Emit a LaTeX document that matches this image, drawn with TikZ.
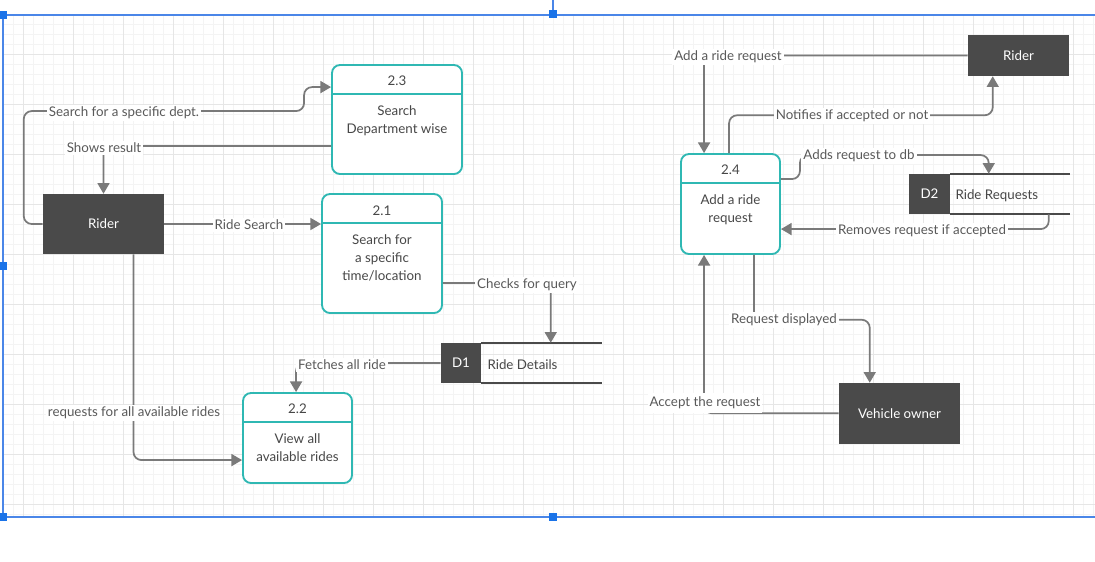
\documentclass[tikz,border=0pt]{standalone}
\usepackage{fontspec}
\setmainfont{Lato}
\usetikzlibrary{arrows.meta,calc}
\definecolor{darkbox}{HTML}{4A4A4A}
\definecolor{linegrey}{HTML}{7A7A7A}
\definecolor{lblgrey}{HTML}{595959}
\definecolor{txtgrey}{HTML}{474747}
\definecolor{tealb}{HTML}{2FB8B3}
\definecolor{gmin}{HTML}{F4F4F4}
\definecolor{gmaj}{HTML}{E6E6E6}
\definecolor{selblue}{HTML}{4A86E8}
\definecolor{handleblue}{HTML}{1A73E8}
\tikzset{
  ent/.style={fill=darkbox, text=white, inner sep=0pt, font=\fontsize{10}{12}\selectfont},
  proc/.style={draw=tealb, line width=1.4pt, rounded corners=6pt, fill=white, inner sep=0pt},
  procline/.style={draw=tealb, line width=1.4pt},
  ptext/.style={text=txtgrey, align=center, inner sep=0pt, font=\fontsize{10}{13.5}\selectfont},
  flow/.style={draw=linegrey, line width=1.3pt, rounded corners=6pt, -{Triangle[length=8pt,width=9pt]}},
  lbl/.style={fill=white, text=lblgrey, inner sep=1.5pt, font=\fontsize{10}{12}\selectfont},
  storebox/.style={inner sep=0pt, minimum width=120.75pt, minimum height=30pt},
  storeid/.style={fill=darkbox, text=white, inner sep=0pt, minimum height=30pt, font=\fontsize{10}{12}\selectfont},
  storeline/.style={draw=darkbox, line width=1.4pt},
  storetext/.style={text=txtgrey, inner sep=0pt, font=\fontsize{10}{12}\selectfont},
  handle/.style={fill=handleblue, minimum size=5.5pt, inner sep=0pt}
}
\begin{document}
\begin{tikzpicture}[x=0.75pt,y=-0.75pt]
\useasboundingbox (0,0) rectangle (1095,561);
\fill[white] (0,0) rectangle (1095,561);
% grid
\foreach \gx in {3,13,...,1093} \draw[gmin, line width=0.5pt] (\gx,15) -- (\gx,518);
\foreach \gy in {24,34,...,514} \draw[gmin, line width=0.5pt] (3,\gy) -- (1095,\gy);
\foreach \gx in {23,73,...,1073} \draw[gmaj, line width=0.6pt] (\gx,15) -- (\gx,518);
\foreach \gy in {54,104,...,504} \draw[gmaj, line width=0.6pt] (3,\gy) -- (1095,\gy);
% selection frame
\draw[selblue, line width=1.3pt] (3,15) -- (1095,15);
\draw[selblue, line width=1.3pt] (3,517) -- (1095,517);
\draw[selblue, line width=1.3pt] (3,15) -- (3,517);
\draw[selblue, line width=0.8pt] (553,0) -- (553,15);
\node[handle] (h1) at (3,15) {};
\node[handle] (h2) at (553,14) {};
\node[handle] (h3) at (3,266) {};
\node[handle] (h4) at (3,517) {};
\node[handle] (h5) at (553,517) {};

% entities
\node[ent, minimum width=90.75pt, minimum height=45pt] (riderL) at (103.5,224) {Rider};
\node[ent, minimum width=75.75pt, minimum height=30.75pt] (riderR) at (1018.5,55.5) {Rider};
\node[ent, minimum width=90.75pt, minimum height=45.75pt] (vowner) at (899.5,413.5) {Vehicle owner};

% processes
\node[proc, minimum width=97.5pt, minimum height=81.75pt] (p23) at (397,119.5) {};
\node[proc, minimum width=90pt, minimum height=89.25pt] (p21) at (382,253.5) {};
\node[proc, minimum width=81.75pt, minimum height=67.5pt] (p22) at (297.5,438) {};
\node[proc, minimum width=74.25pt, minimum height=75pt] (p24) at (730.5,204) {};
\draw[procline] ($(p23.north west)+(0,30)$) -- ($(p23.north east)+(0,30)$);
\draw[procline] ($(p21.north west)+(0,30)$) -- ($(p21.north east)+(0,30)$);
\draw[procline] ($(p22.north west)+(0,30)$) -- ($(p22.north east)+(0,30)$);
\draw[procline] ($(p24.north west)+(0,30)$) -- ($(p24.north east)+(0,30)$);
\node[ptext] (p23n) at ($(p23.north)+(0,17)$) {2.3};
\node[ptext] (p23d) at ($(p23.north)+(0,57)$) {Search\\Department wise};
\node[ptext] (p21n) at ($(p21.north)+(0,18)$) {2.1};
\node[ptext] (p21d) at ($(p21.north)+(0,65)$) {Search for\\a specific\\time/location};
\node[ptext] (p22n) at ($(p22.north)+(0,17)$) {2.2};
\node[ptext] (p22d) at ($(p22.north)+(0,56)$) {View all\\available rides};
\node[ptext] (p24n) at ($(p24.north)+(0,17)$) {2.4};
\node[ptext] (p24d) at ($(p24.north)+(0,57)$) {Add a ride\\request};

% data stores
\node[storebox] (d1) at (521.5,363) {};
\node[storeid, minimum width=30pt, anchor=west] (d1id) at (d1.west) {D1};
\draw[storeline] (d1id.north east) -- (d1.north east);
\draw[storeline] (d1id.south east) -- (d1.south east);
\node[storetext, anchor=west] (d1t) at ($(d1id.east)+(6,1.5)$) {Ride Details};

\node[storebox] (d2) at (989.5,194) {};
\node[storeid, minimum width=30.75pt, anchor=west] (d2id) at (d2.west) {D2};
\draw[storeline] (d2id.north east) -- (d2.north east);
\draw[storeline] (d2id.south east) -- (d2.south east);
\node[storetext, anchor=west] (d2t) at ($(d2id.east)+(5,2)$) {Ride Requests};

% connectors
\draw[flow] (riderL.west) -- ++(-19,0) |- ($(p23.north west)+(-27,47)$) |- ($(p23.north west)+(0,23)$);
\draw[flow] ($(p23.north west)+(0,82)$) -| (riderL.north);
\draw[flow] (riderL.east) -- (riderL.east -| p21.west);
\draw[flow] ($(riderL.south)+(30,0)$) |- ($(p22.north west)+(0,68)$);
\draw[flow] ($(p21.north east)+(0,90)$) -| ($(d1.north west)+(110,0)$);
\draw[flow] (d1.west) -| ($(p22.north west)+(54,0)$);
\draw[flow] (riderR.west) -| ($(p24.north west)+(24,0)$);
\draw[flow] ($(p24.north west)+(49,0)$) |- ($(riderR.south west)+(25,39)$) -- ($(riderR.south west)+(25,0)$);
\draw[flow] ($(p24.north east)+(0,26)$) -| ($(p24.north east)+(19,2)$) -| ($(d2.north west)+(80,0)$);
\draw[flow] ($(d2.south west)+(140,0)$) |- ($(p24.north east)+(0,76)$);
\draw[flow] ($(p24.south west)+(74,0)$) |- ($(vowner.north west)+(31,-63)$) -- ($(vowner.north west)+(31,0)$);
\draw[flow] ($(vowner.south west)+(0,-31)$) -| ($(p24.south west)+(24,0)$);

% connector labels
\node[lbl] (l1) at (124,113) {Search for a specific dept.};
\node[lbl] (l2) at (104,148) {Shows result};
\node[lbl] (l3) at (249,225) {Ride Search};
\node[lbl] (l4) at (134,413) {requests for all available rides};
\node[lbl] (l5) at (527,285) {Checks for query};
\node[lbl] (l6) at (342,365) {Fetches all ride};
\node[lbl] (l7) at (728,57) {Add a ride request};
\node[lbl] (l8) at (852,116) {Notifies if accepted or not};
\node[lbl] (l9) at (859,156) {Adds request to db};
\node[lbl, inner ysep=3pt] (l12) at (705,403) {Accept the request};
\node[lbl] (l10) at (922,231) {Removes request if accepted};
\node[lbl] (l11) at (784,320) {Request displayed};
\end{tikzpicture}
\end{document}
